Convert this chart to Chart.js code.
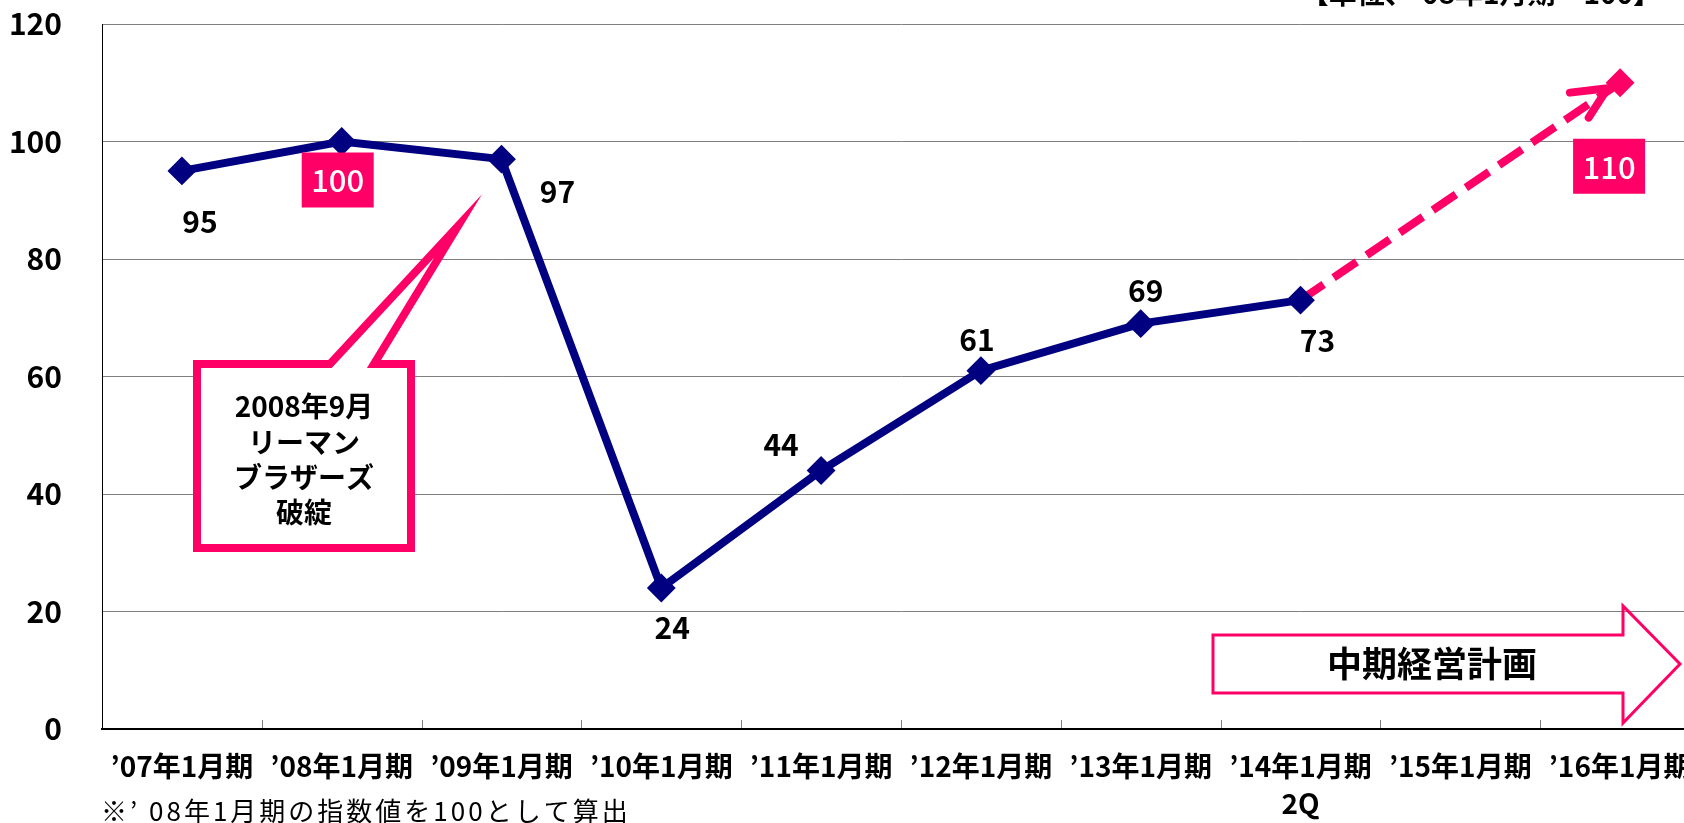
<!DOCTYPE html>
<html><head><meta charset="utf-8">
<script src="https://cdn.jsdelivr.net/npm/chart.js@4.4.0/dist/chart.umd.min.js"></script>
<style>
html,body{margin:0;padding:0;overflow:hidden;background:#fff;width:1684px;height:823px}
canvas{position:absolute;left:0;top:0}
</style>
</head><body>
<canvas id="c" width="1720" height="823" style="width:1720px;height:823px"></canvas>
<script>
// ---- data ----
const categories = ["’07年1月期","’08年1月期","’09年1月期","’10年1月期","’11年1月期","’12年1月期","’13年1月期",["’14年1月期","2Q"],"’15年1月期","’16年1月期"];
const indexValues = [95,100,97,24,44,61,69,73,null,null];
const planValues  = [null,null,null,null,null,null,null,73,null,110];
const yTicks = [0,20,40,60,80,100,120];
const titleText = "【単位、’08年1月期＝100】";
const noteText = "※’ 08年1月期の指数値を100として算出";
const calloutLines = ["2008年9月","リーマン","ブラザーズ","破綻"];
const planText = "中期経営計画";

// ---- styling / layout ----
const FONT = '"Noto Sans CJK JP", "Noto Sans", sans-serif';
const NAVY = '#000080';
const PINK = '#FF0066';
const mainLabelOffsets = [[18,51],[-4,38],[56,32],[11,40],[-40,-26],[-4,-31],[5,-33],[17,40],null,null];
const mainBoxed = [false,true,false,false,false,false,false,false,false,false];
const planLabelOffsets = [null,null,null,null,null,null,null,null,null,[-11,83]];

const overlay = {
  id:'overlay',
  afterDatasetsDraw(chart){
    const ctx = chart.ctx;
    const xs = chart.scales.x;
    const ca = chart.chartArea;
    ctx.save();
    // inner tick marks on x axis
    ctx.strokeStyle = '#808080'; ctx.lineWidth = 1;
    for(let i=1;i<categories.length;i++){
      const x = Math.round(xs.getPixelForValue(i-0.5))+0.5;
      ctx.beginPath(); ctx.moveTo(x, ca.bottom-1); ctx.lineTo(x, ca.bottom-9); ctx.stroke();
    }
    // arrow head on plan line
    const m2 = chart.getDatasetMeta(1);
    const p0 = m2.data[7], p1 = m2.data[9];
    const dx = p1.x-p0.x, dy = p1.y-p0.y, L = Math.hypot(dx,dy);
    const ux = dx/L, uy = dy/L;
    const tx = p1.x-ux*15, ty = p1.y-uy*15 - 3;
    const back = Math.atan2(-uy,-ux);
    ctx.strokeStyle = PINK; ctx.lineWidth = 8; ctx.lineCap='round'; ctx.lineJoin='round';
    ctx.beginPath();
    ctx.moveTo(tx+Math.cos(back+0.48)*38, ty+Math.sin(back+0.48)*38);
    ctx.lineTo(tx,ty);
    ctx.lineTo(tx+Math.cos(back-0.40)*35, ty+Math.sin(back-0.40)*35);
    ctx.stroke();
    // data labels
    const drawLabels = (meta, values, offs, boxed) => {
      values.forEach((v,i)=>{
        if(v==null || !offs[i]) return;
        const pt = meta.data[i];
        const cx = pt.x+offs[i][0], cy = pt.y+offs[i][1];
        ctx.textAlign='center'; ctx.textBaseline='middle';
        if(boxed[i]){
          ctx.fillStyle = PINK; ctx.fillRect(cx-36, cy-27, 72, 55);
          ctx.fillStyle = '#fff'; ctx.font = '500 31px '+FONT;
          ctx.fillText(String(v), cx, cy+1);
        } else {
          ctx.fillStyle = '#000'; ctx.font = 'bold 30px '+FONT;
          ctx.fillText(String(v), cx, cy);
        }
      });
    };
    drawLabels(chart.getDatasetMeta(0), indexValues, mainLabelOffsets, mainBoxed);
    drawLabels(m2, planValues, planLabelOffsets, planValues.map(()=>true));

    // callout
    ctx.lineCap='butt'; ctx.lineJoin='miter'; ctx.miterLimit=20;
    ctx.beginPath();
    ctx.moveTo(197,364); ctx.lineTo(330,364); ctx.lineTo(458,226); ctx.lineTo(374,364);
    ctx.lineTo(411,364); ctx.lineTo(411,548); ctx.lineTo(197,548); ctx.closePath();
    ctx.fillStyle='#fff'; ctx.fill();
    ctx.strokeStyle=PINK; ctx.lineWidth=8; ctx.stroke();
    ctx.fillStyle='#000'; ctx.font='bold 28px '+FONT; ctx.textAlign='center'; ctx.textBaseline='middle';
    const ly=[406,442,477,512];
    calloutLines.forEach((t,i)=>ctx.fillText(t,304,ly[i]));

    // plan block arrow
    ctx.beginPath();
    ctx.moveTo(1213,635); ctx.lineTo(1623,635); ctx.lineTo(1623,606); ctx.lineTo(1680,664);
    ctx.lineTo(1623,723); ctx.lineTo(1623,693); ctx.lineTo(1213,693); ctx.closePath();
    ctx.strokeStyle=PINK; ctx.lineWidth=3; ctx.lineJoin='miter'; ctx.stroke();
    ctx.fillStyle='#000'; ctx.font='bold 35px '+FONT;
    ctx.fillText(planText,1432,664);

    // title (cut at top)
    ctx.textAlign='right'; ctx.textBaseline='alphabetic'; ctx.font='bold 28px '+FONT;
    ctx.fillText(titleText,1661,4);
    // footnote
    ctx.textAlign='left'; ctx.font='26px '+FONT;
    try{ ctx.letterSpacing='3px'; }catch(e){}
    ctx.fillText(noteText,101,821);
    ctx.restore();
  }
};

new Chart(document.getElementById('c'), {
  type:'line',
  data:{
    labels: categories,
    datasets:[
      { data:indexValues, borderColor:NAVY, backgroundColor:NAVY, borderWidth:8,
        pointStyle:'rectRot', pointRadius:13, pointBorderWidth:2, pointBorderColor:NAVY, pointBackgroundColor:NAVY,
        tension:0, spanGaps:false },
      { data:planValues, borderColor:PINK, backgroundColor:PINK, borderWidth:8, borderDash:[28,12],
        pointStyle:'rectRot', pointRadius:planValues.map((v,i)=>i===9?13:0), pointBorderWidth:2,
        pointBorderColor:PINK, pointBackgroundColor:PINK, tension:0, spanGaps:true }
    ]
  },
  options:{
    responsive:false, animation:false,
    layout:{padding:{top:24,right:20,left:0,bottom:0}},
    plugins:{legend:{display:false}, tooltip:{enabled:false}},
    scales:{
      x:{ offset:true,
        grid:{display:true, drawOnChartArea:false, drawTicks:false},
        border:{color:'#000', width:2},
        ticks:{color:'#000', font:{family:FONT, size:28, weight:'bold', lineHeight:1.35}, padding:18, maxRotation:0, autoSkip:false},
        afterFit(s){ s.height = 94; s.paddingLeft = 0; s.paddingRight = 0; }
      },
      y:{ min:0, max:120,
        afterBuildTicks(s){ s.ticks = yTicks.map(v=>({value:v})); },
        grid:{color:'#7f7f7f', lineWidth:1, drawTicks:false},
        border:{color:'#000', width:1},
        ticks:{color:'#000', font:{family:FONT, size:30, weight:'bold'}, padding:40},
        afterFit(s){ s.width = 102; s.paddingTop = 0; s.paddingBottom = 0; }
      }
    }
  },
  plugins:[overlay]
});
</script>
</body></html>
